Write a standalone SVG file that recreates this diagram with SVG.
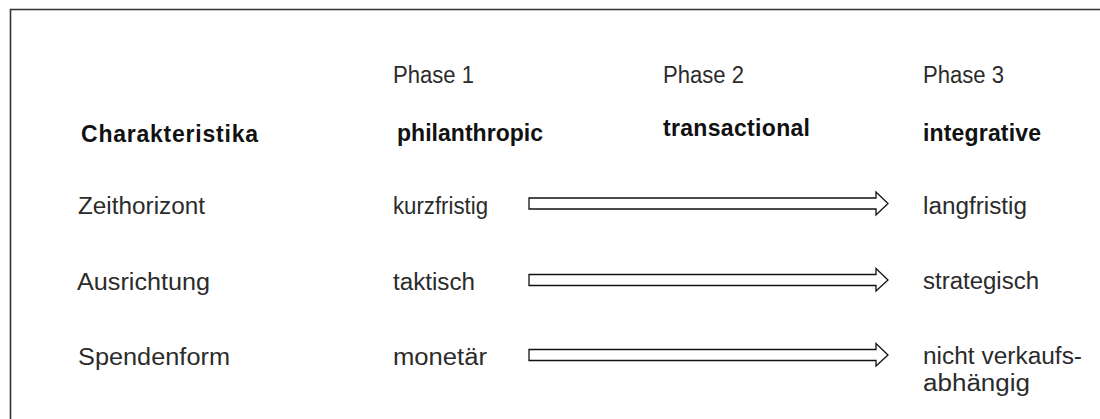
<svg xmlns="http://www.w3.org/2000/svg" width="1100" height="419" viewBox="0 0 1100 419">
<style>
.r{font-family:"Liberation Sans",Arial,sans-serif;font-size:23px;fill:#2b2b2b}
.b{font-family:"Liberation Sans",Arial,sans-serif;font-size:23px;font-weight:bold;fill:#111}
.arr{fill:#fff;stroke:#111;stroke-width:1.3;stroke-linejoin:miter}
</style>
<rect width="1100" height="419" fill="#fff"/>
<path d="M10.5 419 V9.5 H1100" fill="none" stroke="#333" stroke-width="1.6"/>
<g id="header">
<text class="r" x="393" y="83" textLength="81" lengthAdjust="spacingAndGlyphs">Phase 1</text>
<text class="r" x="663" y="83" textLength="81" lengthAdjust="spacingAndGlyphs">Phase 2</text>
<text class="r" x="923" y="83" textLength="81" lengthAdjust="spacingAndGlyphs">Phase 3</text>
<text class="b" x="81" y="142" textLength="177" lengthAdjust="spacing">Charakteristika</text>
<text class="b" x="397" y="141" textLength="146" lengthAdjust="spacing">philanthropic</text>
<text class="b" x="663" y="136" textLength="147" lengthAdjust="spacing">transactional</text>
<text class="b" x="923" y="141" textLength="118" lengthAdjust="spacing">integrative</text>
</g>
<g id="row-zeithorizont">
<text class="r" x="78" y="214" textLength="127" lengthAdjust="spacingAndGlyphs">Zeithorizont</text>
<text class="r" x="393" y="214" textLength="95" lengthAdjust="spacingAndGlyphs">kurzfristig</text>
<text class="r" x="923" y="214" textLength="104" lengthAdjust="spacingAndGlyphs">langfristig</text>
</g>
<g id="row-ausrichtung">
<text class="r" x="77" y="290" textLength="133" lengthAdjust="spacingAndGlyphs">Ausrichtung</text>
<text class="r" x="393" y="290" textLength="82" lengthAdjust="spacingAndGlyphs">taktisch</text>
<text class="r" x="923" y="289" textLength="116" lengthAdjust="spacingAndGlyphs">strategisch</text>
</g>
<g id="row-spendenform">
<text class="r" x="78" y="365" textLength="152" lengthAdjust="spacingAndGlyphs">Spendenform</text>
<text class="r" x="393" y="365" textLength="94" lengthAdjust="spacingAndGlyphs">monetär</text>
<text class="r" x="923" y="364" textLength="159" lengthAdjust="spacingAndGlyphs">nicht verkaufs-</text>
<text class="r" x="923" y="391" textLength="107" lengthAdjust="spacingAndGlyphs">abhängig</text>
</g>
<g id="connectors">
<polygon class="arr" points="529,198 876,198 876,192 888,203.5 876,215 876,209 529,209"/>
<polygon class="arr" points="529,274.5 876,274.5 876,268.5 888,280 876,291 876,285.5 529,285.5"/>
<polygon class="arr" points="529,349.5 876,349.5 876,343.5 888,355 876,366 876,360.5 529,360.5"/>
</g>
</svg>
